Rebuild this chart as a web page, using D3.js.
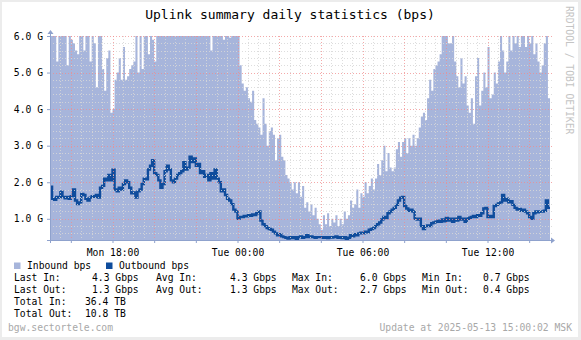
<!DOCTYPE html>
<html>
<head>
<meta charset="utf-8">
<script src="https://cdn.jsdelivr.net/npm/d3@7"></script>
<style>
  html, body { margin: 0; padding: 0; background: #ffffff; }
  svg { display: block; }
  text { font-family: "DejaVu Sans Mono", monospace; }
</style>
</head>
<body>
<svg id="chart" width="581" height="340"></svg>
<script>
// ---- data: 24 hours, one sample every 6 minutes, values in Gbps ----
const startTime = new Date(2025, 4, 12, 15, 0, 0);
const endTime = new Date(2025, 4, 13, 15, 0, 0);
const stepMinutes = 6;

const inbound = [
  6.0, 6.0, 6.0, 5.3, 6.0, 6.0, 6.0, 6.0, 5.2, 6.0,
  5.9, 5.8, 5.6, 5.5, 6.0, 6.0, 5.6, 6.0, 6.0, 5.3,
  6.0, 5.8, 4.6, 6.0, 6.0, 5.1, 4.5, 5.4, 5.6, 3.9,
  4.0, 4.8, 5.0, 5.4, 4.8, 5.7, 4.8, 4.9, 5.1, 5.2,
  5.3, 6.0, 5.0, 6.0, 5.1, 6.0, 6.0, 5.5, 6.0, 5.9,
  5.3, 6.0, 6.0, 6.0, 6.0, 6.0, 6.0, 6.0, 6.0, 6.0,
  6.0, 6.0, 6.0, 6.0, 6.0, 6.0, 6.0, 6.0, 6.0, 6.0,
  6.0, 6.0, 6.0, 6.0, 6.0, 6.0, 6.0, 5.6, 6.0, 6.0,
  6.0, 6.0, 6.0, 5.9, 6.0, 6.0, 5.95, 6.0, 6.0, 6.0,
  6.0, 5.2, 4.7, 4.5, 4.6, 4.3, 4.2, 4.5, 3.7, 3.6,
  3.5, 3.3, 4.3, 3.6, 3.0, 3.4, 3.5, 3.3, 2.6, 3.2,
  3.3, 2.7, 2.6, 2.2, 2.1, 2.0, 1.8, 2.0, 1.7, 2.0,
  1.6, 1.9, 1.3, 1.45, 1.2, 1.4, 1.1, 1.3, 1.0, 0.85,
  0.7, 1.1, 0.85, 1.15, 0.8, 1.0, 0.9, 1.1, 0.8, 1.0,
  0.85, 1.2, 1.0, 1.1, 1.5, 1.3, 1.4, 1.8, 1.3, 1.7,
  1.6, 2.0, 1.7, 1.9, 2.1, 1.8, 2.1, 2.5, 2.2, 2.6,
  3.0, 2.3, 2.8, 2.4, 2.3, 2.4, 2.9, 3.1, 2.7, 3.1,
  3.2, 2.8, 3.2, 3.0, 3.3, 3.0, 3.2, 3.5, 3.8, 3.9,
  3.7, 4.3, 4.8, 4.5, 5.1, 5.2, 5.3, 5.5, 6.0, 6.0,
  6.0, 5.8, 5.8, 6.0, 5.3, 4.9, 4.6, 5.4, 4.7, 4.9,
  4.1, 3.9, 4.3, 3.6, 4.9, 5.4, 4.1, 4.5, 5.0, 4.6,
  5.7, 4.3, 4.4, 5.0, 4.7, 5.3, 6.0, 5.6, 5.0, 5.3,
  6.0, 5.6, 6.0, 5.8, 6.0, 5.7, 6.0, 6.0, 5.7, 6.0,
  5.8, 6.0, 5.5, 5.8, 5.3, 5.0, 5.2, 5.8, 6.0, 4.3
];

const outbound = [
  1.88, 1.55, 1.52, 1.6, 1.58, 1.74, 1.6, 1.56, 1.6, 1.55,
  1.62, 1.8, 1.5, 1.4, 1.45, 1.68, 1.65, 1.55, 1.5, 1.58,
  1.62, 1.6, 1.65, 1.58, 1.85, 1.9, 2.1, 2.05, 2.2, 2.05,
  2.34, 1.8, 1.75, 1.85, 1.8, 1.95, 2.05, 2.0, 1.85, 1.7,
  1.72, 1.58, 1.75, 1.8, 1.95, 2.1, 2.08, 2.35, 2.45, 2.6,
  2.25, 2.2, 2.05, 1.85, 1.95, 2.3, 2.45, 2.35, 2.05, 2.0,
  2.1, 2.2, 2.25, 2.3, 2.55, 2.35, 2.4, 2.7, 2.55, 2.65,
  2.45, 2.5, 2.25, 2.3, 2.15, 2.2, 2.05, 2.25, 2.1, 2.35,
  2.1, 2.0, 1.75, 1.8, 1.65, 1.55, 1.5, 1.4, 1.25, 1.2,
  1.0, 1.05, 1.05, 1.08, 1.07, 1.1, 1.08, 1.12, 1.1, 1.15,
  1.2, 0.95, 0.85, 0.8, 0.75, 0.72, 0.7, 0.65, 0.6, 0.55,
  0.58, 0.52, 0.5, 0.48, 0.46, 0.5, 0.47, 0.5, 0.45, 0.5,
  0.52, 0.48, 0.5, 0.55, 0.5, 0.52, 0.5, 0.48, 0.5, 0.5,
  0.5, 0.48, 0.5, 0.47, 0.5, 0.49, 0.5, 0.52, 0.48, 0.5,
  0.47, 0.5, 0.4, 0.48, 0.55, 0.52, 0.58, 0.55, 0.6, 0.62,
  0.6, 0.65, 0.63, 0.7, 0.72, 0.75, 0.8, 0.85, 0.9, 0.98,
  1.05, 1.02, 1.15, 1.2, 1.25, 1.3, 1.38, 1.5, 1.58, 1.6,
  1.35, 1.28, 1.22, 1.25, 1.2, 1.0, 0.98, 1.0, 0.8, 0.72,
  0.8, 0.82, 0.8, 0.88, 0.9, 0.92, 0.95, 0.92, 0.98, 0.93,
  1.02, 0.95, 1.0, 0.92, 1.0, 0.95, 1.05, 0.98, 1.0, 0.92,
  1.0, 1.03, 1.05, 1.08, 1.05, 1.1, 1.08, 1.15, 1.28, 1.3,
  1.05, 1.08, 1.05, 1.35, 1.38, 1.42, 1.45, 1.65, 1.5, 1.55,
  1.45, 1.48, 1.38, 1.3, 1.25, 1.27, 1.22, 1.25, 1.2, 1.15,
  1.05, 1.0, 1.15, 1.2, 1.18, 1.2, 1.2, 1.22, 1.5, 1.3
];

const yTickValues = [1, 2, 3, 4, 5, 6];
const xLabelTimes = [
  new Date(2025, 4, 12, 18, 0), new Date(2025, 4, 13, 0, 0),
  new Date(2025, 4, 13, 6, 0), new Date(2025, 4, 13, 12, 0)
];

const titleText = "Uplink summary daily statistics (bps)";
const seriesNames = ["Inbound bps", "Outbound bps"];
const statLabels = [
  ["Last In:", "Avg In:", "Max In:", "Min In:"],
  ["Last Out:", "Avg Out:", "Max Out:", "Min Out:"]
];
const statValues = [
  ["4.3 Gbps", "4.3 Gbps", "6.0 Gbps", "0.7 Gbps"],
  ["1.3 Gbps", "1.3 Gbps", "2.7 Gbps", "0.4 Gbps"]
];
const totalLabels = ["Total In:", "Total Out:"];
const totalValues = ["36.4 TB", "10.8 TB"];
const hostText = "bgw.sectortele.com";
const updateText = "Update at 2025-05-13 15:00:02 MSK";
const watermark = "RRDTOOL / TOBI OETIKER";

// ---- drawing ----
const W = 581, H = 340;
const plot = { left: 50, right: 550, top: 36, bottom: 240 };
const colors = {
  inbound: "#a7b5db",
  outbound: "#0f4c9c",
  axis: "#8fa2cd",
  minorGrid: "rgba(215,215,215,0.85)",
  majorGrid: "rgba(240,140,140,0.75)",
  faint: "#a8a8a8"
};
const fontSize = 9.7;

const svg = d3.select("#chart");

// frame
svg.append("rect").attr("x", 0).attr("y", 0).attr("width", W).attr("height", H).attr("fill", "#ececec");
svg.append("rect").attr("x", 2).attr("y", 2).attr("width", W - 5).attr("height", H - 5).attr("fill", "#ffffff");

const x = d3.scaleTime().domain([startTime, endTime]).range([plot.left, plot.right]);
const y = d3.scaleLinear().domain([0.42, 6.0]).range([plot.bottom, plot.top]);

const toPoints = arr => {
  const pts = arr.map((v, i) => ({ t: d3.timeMinute.offset(startTime, i * stepMinutes), v }));
  pts.push({ t: endTime, v: arr[arr.length - 1] });
  return pts;
};
const inPts = toPoints(inbound);
const outPts = toPoints(outbound);

svg.append("clipPath").attr("id", "plotClip")
  .append("rect").attr("x", plot.left).attr("y", plot.top - 1)
  .attr("width", plot.right - plot.left).attr("height", plot.bottom - plot.top + 1);

const g = svg.append("g").attr("clip-path", "url(#plotClip)");

g.append("path")
  .datum(inPts)
  .attr("fill", colors.inbound)
  .attr("d", d3.area().curve(d3.curveStepAfter)
    .x(d => x(d.t)).y0(plot.bottom).y1(d => y(d.v)));

g.append("path")
  .datum(outPts)
  .attr("fill", "none")
  .attr("stroke", colors.outbound)
  .attr("stroke-width", 2.4)
  .attr("d", d3.line().curve(d3.curveStepAfter)
    .x(d => x(d.t)).y(d => y(d.v)));

// grid drawn over the data, dotted
const gridG = svg.append("g").attr("shape-rendering", "crispEdges");
const minorTimes = d3.timeMinute.every(30).range(d3.timeMinute.offset(startTime, 30), endTime)
  .filter(t => !(t.getMinutes() === 0 && t.getHours() % 2 === 0));
const majorTimes = d3.timeHour.every(2).range(startTime, endTime).filter(t => t.getHours() % 2 === 0);
const minorVals = d3.range(6, 60, 2).map(v => v / 10).filter(v => v % 1 !== 0);

gridG.selectAll(".vmin").data(minorTimes).enter().append("line")
  .attr("x1", d => Math.round(x(d)) + 0.5).attr("x2", d => Math.round(x(d)) + 0.5)
  .attr("y1", plot.top).attr("y2", plot.bottom)
  .attr("stroke", colors.minorGrid).attr("stroke-dasharray", "1,2");
gridG.selectAll(".hmin").data(minorVals).enter().append("line")
  .attr("y1", d => Math.round(y(d)) + 0.5).attr("y2", d => Math.round(y(d)) + 0.5)
  .attr("x1", plot.left).attr("x2", plot.right + 2)
  .attr("stroke", colors.minorGrid).attr("stroke-dasharray", "1,2");
gridG.selectAll(".vmaj").data(majorTimes).enter().append("line")
  .attr("x1", d => Math.round(x(d)) + 0.5).attr("x2", d => Math.round(x(d)) + 0.5)
  .attr("y1", plot.top).attr("y2", plot.bottom)
  .attr("stroke", colors.majorGrid).attr("stroke-dasharray", "1,2");
gridG.selectAll(".hmaj").data(yTickValues).enter().append("line")
  .attr("y1", d => Math.round(y(d)) + 0.5).attr("y2", d => Math.round(y(d)) + 0.5)
  .attr("x1", plot.left).attr("x2", plot.right + 2)
  .attr("stroke", colors.majorGrid).attr("stroke-dasharray", "1,2");

// axes
const yAxis = d3.axisLeft(y).tickValues(yTickValues)
  .tickFormat(d => d3.format(".1f")(d) + " G").tickSize(3).tickPadding(4);
const yAxisG = svg.append("g").attr("transform", `translate(${plot.left},0)`).call(yAxis);
yAxisG.select(".domain").remove();
yAxisG.selectAll("line").attr("stroke", colors.axis);
yAxisG.selectAll("text").attr("font-size", fontSize).attr("fill", "#000")
  .attr("font-family", "DejaVu Sans Mono").attr("x", -7);

const xTicks = d3.axisBottom(x).tickValues(majorTimes.concat([startTime])).tickFormat("").tickSize(3);
const xTickG = svg.append("g").attr("transform", `translate(0,${plot.bottom})`).call(xTicks);
xTickG.select(".domain").remove();
xTickG.selectAll("line").attr("stroke", colors.axis);

const xAxis = d3.axisBottom(x).tickValues(xLabelTimes)
  .tickFormat(d3.timeFormat("%a %H:%M")).tickSize(0).tickPadding(9);
const xAxisG = svg.append("g").attr("transform", `translate(0,${plot.bottom})`).call(xAxis);
xAxisG.select(".domain").remove();
xAxisG.selectAll("text").attr("font-size", fontSize).attr("fill", "#000")
  .attr("font-family", "DejaVu Sans Mono");

// axis lines with arrows
svg.append("line").attr("x1", plot.left - 3).attr("x2", plot.right + 1)
  .attr("y1", plot.bottom + 0.5).attr("y2", plot.bottom + 0.5)
  .attr("stroke", colors.axis).attr("stroke-width", 1);
svg.append("path").attr("fill", colors.axis)
  .attr("d", `M${plot.right + 1},${plot.bottom - 2.5} L${plot.right + 5},${plot.bottom + 0.5} L${plot.right + 1},${plot.bottom + 3.5} Z`);
svg.append("line").attr("x1", plot.left + 0.5).attr("x2", plot.left + 0.5)
  .attr("y1", plot.bottom + 3).attr("y2", plot.top - 2)
  .attr("stroke", colors.axis).attr("stroke-width", 1);
svg.append("path").attr("fill", colors.axis)
  .attr("d", `M${plot.left - 2.5},${plot.top - 2} L${plot.left + 0.5},${plot.top - 6} L${plot.left + 3.5},${plot.top - 2} Z`);

// title
svg.append("text").attr("x", 290).attr("y", 18.5).attr("text-anchor", "middle")
  .attr("font-size", 13).attr("fill", "#000").text(titleText);

// watermark
svg.append("text")
  .attr("transform", "translate(566,6) rotate(90)")
  .attr("font-size", fontSize).attr("fill", "#c4c4c4").text(watermark);

// legend
const legendColors = [colors.inbound, colors.outbound];
const legendX = [14, 106];
seriesNames.forEach((name, i) => {
  svg.append("rect").attr("x", legendX[i]).attr("y", 262.5).attr("width", 6.5).attr("height", 6.5)
    .attr("fill", legendColors[i]);
  svg.append("text").attr("x", legendX[i] + 13).attr("y", 269).attr("font-size", fontSize)
    .attr("fill", "#000").text(name);
});

const labelCols = [14, 156, 292, 422];
const valueCols = [92, 230, 360, 483];
const statRowsY = [281, 293];
statLabels.forEach((row, r) => {
  row.forEach((lab, c) => {
    svg.append("text").attr("x", labelCols[c]).attr("y", statRowsY[r]).attr("font-size", fontSize)
      .attr("fill", "#000").text(lab);
    svg.append("text").attr("x", valueCols[c]).attr("y", statRowsY[r]).attr("font-size", fontSize)
      .attr("fill", "#000").text(statValues[r][c]);
  });
});
const totalRowsY = [305, 317];
totalLabels.forEach((lab, r) => {
  svg.append("text").attr("x", 14).attr("y", totalRowsY[r]).attr("font-size", fontSize)
    .attr("fill", "#000").text(lab);
  svg.append("text").attr("x", 85).attr("y", totalRowsY[r]).attr("font-size", fontSize)
    .attr("fill", "#000").text(totalValues[r]);
});

svg.append("text").attr("x", 8).attr("y", 331).attr("font-size", fontSize)
  .attr("fill", colors.faint).text(hostText);
svg.append("text").attr("x", 572).attr("y", 331).attr("text-anchor", "end").attr("font-size", fontSize)
  .attr("fill", colors.faint).text(updateText);
</script>
</body>
</html>
